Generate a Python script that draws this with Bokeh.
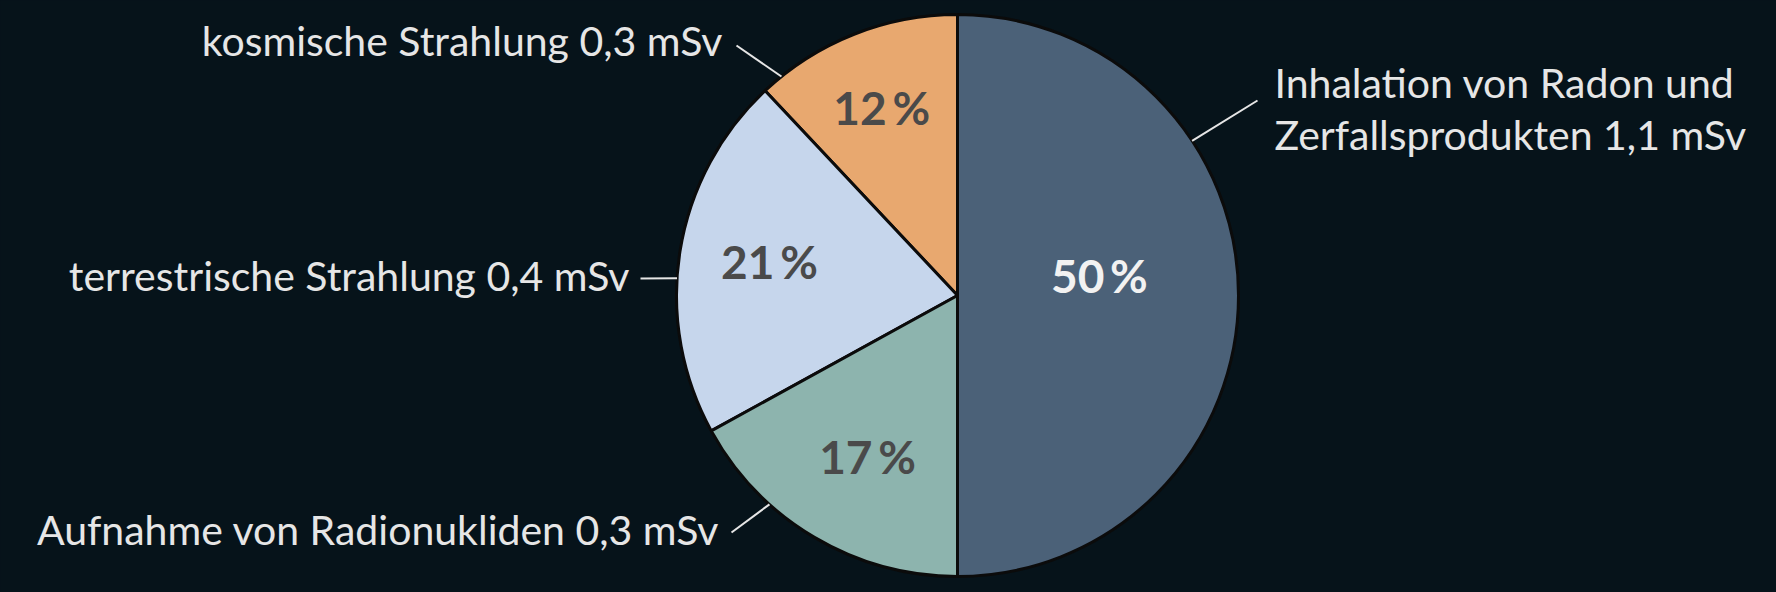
import math

from bokeh.core.properties import value
from bokeh.embed import file_html
from bokeh.models import ColumnDataSource, Range1d
from bokeh.plotting import figure
from bokeh.resources import INLINE

# Data (slices go anticlockwise starting at the bottom of the pie)
labels = ["Inhalation von Radon und\nZerfallsprodukten 1,1 mSv",
          "kosmische Strahlung 0,3 mSv",
          "terrestrische Strahlung 0,4 mSv",
          "Aufnahme von Radionukliden 0,3 mSv"]
percents = [50, 12, 21, 17]
colors = ["#4b6178", "#e8a86f", "#c6d6ec", "#8db4ae"]
pct_colors = ["#f2f2f2", "#4a4a4a", "#4a4a4a", "#4a4a4a"]

BG = "#06131a"
W, H = 1776, 592
CX, CY, R = 957, 297, 281
FONT = "Lato"

# layout of the percent labels (radius factor, angle nudge in degrees)
pct_r = [0.51, 0.72, 0.68, 0.656]
pct_nudge = [8, 0.4, -1.3, 1.4]

# leader lines: angle on the rim, outer end point (x, y in plot pixels)
lead_ang = [33.4, 128.8, 176.5, 228.0]
lead_end = [(1257, 492), (736, 547), (640, 314), (731, 60)]
# label anchors
lab_pos = [(1274, 484), (722, 552), (629, 317), (719, 63)]
lab_align = ["left", "right", "right", "right"]

start = []
end = []
a = -90.0
for pc in percents:
    start.append(math.radians(a))
    a += pc * 3.6
    end.append(math.radians(a))

src = ColumnDataSource(data=dict(start=start, end=end, color=colors))

p = figure(width=W, height=H, x_range=Range1d(0, W), y_range=Range1d(0, H),
           output_backend="svg", toolbar_location=None, tools="",
           background_fill_color=BG, border_fill_color=BG, min_border=0)
p.axis.visible = False
p.grid.visible = False
p.outline_line_color = None

p.wedge(x=CX, y=CY, radius=R, start_angle="start", end_angle="end",
        fill_color="color", line_color="#0b0b0b", line_width=3, source=src)

# percent labels
px, py, ptxt = [], [], []
for i, pc in enumerate(percents):
    mid = (start[i] + end[i]) / 2 + math.radians(pct_nudge[i])
    px.append(CX + pct_r[i] * R * math.cos(mid))
    py.append(CY + pct_r[i] * R * math.sin(mid))
    ptxt.append(f"{pc}\u2009%")
p.text(x=px, y=py, text=ptxt, text_color=pct_colors, text_font=value(FONT),
       text_font_style="bold", text_font_size="46px",
       text_align="center", text_baseline="middle")

# leader lines
for i in range(len(labels)):
    ang = math.radians(lead_ang[i])
    x0 = CX + R * math.cos(ang)
    y0 = CY + R * math.sin(ang)
    p.line([x0, lead_end[i][0]], [y0, lead_end[i][1]], line_color="#e6e6e6", line_width=2)

# category labels
for i, lab in enumerate(labels):
    p.text(x=[lab_pos[i][0]], y=[lab_pos[i][1]], text=[lab], text_color="#e6e6e6",
           text_font=value(FONT), text_font_size="41px", text_align=lab_align[i],
           text_baseline="middle", text_line_height=1.08)

html = file_html(p, INLINE)
css = "<style>html,body{margin:0;padding:0;background:%s;overflow:hidden}</style>" % BG
html = html.replace("</head>", css + "</head>", 1)
open("out.html", "w").write(html)
